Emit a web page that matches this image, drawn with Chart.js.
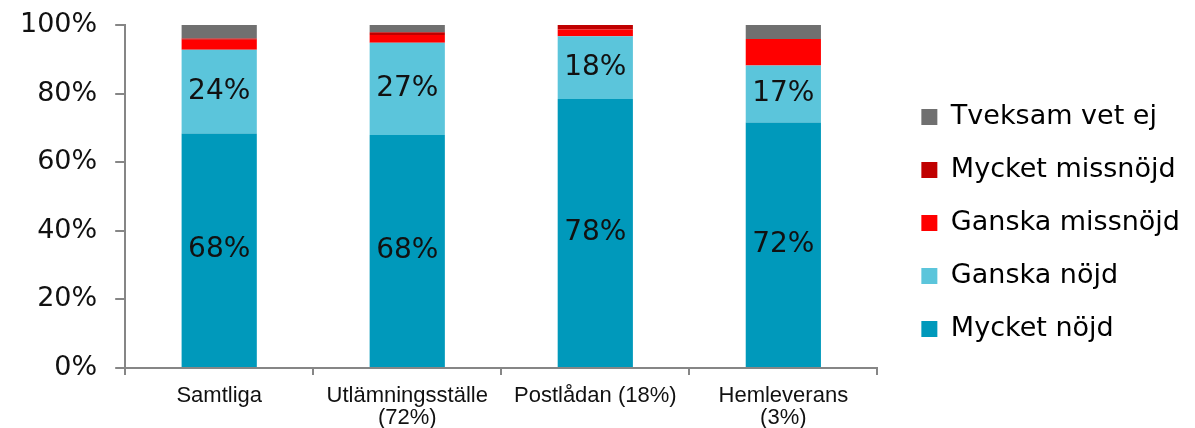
<!DOCTYPE html>
<html>
<head>
<meta charset="utf-8">
<script src="https://cdn.jsdelivr.net/npm/chart.js@4"></script>
<style>
  body { margin: 0; background: #fff; }
  #wrap { width: 1195px; height: 428px; }
</style>
</head>
<body>
<div id="wrap"><canvas id="chart"></canvas></div>
<script>
const categories = ['Samtliga', ['Utlämningsställe', '(72%)'], 'Postlådan (18%)', ['Hemleverans', '(3%)']];
const mycketNojd = [68.4, 67.9, 78.4, 71.6];
const ganskaNojd = [24.4, 26.9, 18.3, 16.6];
const ganskaMissnojd = [2.9, 2.3, 2.0, 7.7];
const mycketMissnojd = [0.4, 0.8, 1.3, 0];
const tveksam = [3.9, 2.1, 0, 4.1];
const yTicks = [0, 20, 40, 60, 80, 100];

const axisColor = '#868686';
const font = 'DejaVu Sans, Verdana, sans-serif';

// draws the rounded % inside the two "nöjd" segments
const segmentLabels = {
  id: 'segmentLabels',
  afterDatasetsDraw(chart) {
    const ctx = chart.ctx;
    ctx.save();
    ctx.font = '28px ' + font;
    ctx.fillStyle = '#111';
    ctx.textAlign = 'center';
    ctx.textBaseline = 'middle';
    [0, 1].forEach((di) => {
      const meta = chart.getDatasetMeta(di);
      meta.data.forEach((bar, i) => {
        const v = chart.data.datasets[di].data[i];
        if (!v) return;
        ctx.fillText(Math.round(v) + '%', bar.x, (bar.y + bar.base) / 2);
      });
    });
    ctx.restore();
  }
};

// widen the legend box and nudge its drawing so it sits like the original
const legendGap = {
  id: 'legendGap',
  beforeLayout(chart) {
    const lg = chart.legend;
    if (lg && !lg._gapPatched) {
      const fit = lg.fit.bind(lg);
      const draw = lg.draw.bind(lg);
      lg.fit = function () { fit(); this.width += 23; };
      lg.draw = function () {
        const ctx = chart.ctx;
        ctx.save();
        ctx.translate(18, 9);
        draw();
        ctx.restore();
      };
      lg._gapPatched = true;
    }
  }
};

new Chart(document.getElementById('chart'), {
  type: 'bar',
  data: {
    labels: categories,
    datasets: [
      { label: 'Mycket nöjd', data: mycketNojd, backgroundColor: '#0099BB' },
      { label: 'Ganska nöjd', data: ganskaNojd, backgroundColor: '#5BC5DB' },
      { label: 'Ganska missnöjd', data: ganskaMissnojd, backgroundColor: '#FF0000' },
      { label: 'Mycket missnöjd', data: mycketMissnojd, backgroundColor: '#C00000' },
      { label: 'Tveksam vet ej', data: tveksam, backgroundColor: '#707070' },
    ],
  },
  options: {
    responsive: true,
    maintainAspectRatio: false,
    animation: false,
    barPercentage: 0.4,
    categoryPercentage: 1,
    layout: { padding: { top: 0, left: 2, right: 0, bottom: 0 } },
    plugins: {
      tooltip: { enabled: false },
      legend: {
        position: 'right',
        reverse: true,
        labels: {
          boxWidth: 16,
          boxHeight: 16,
          padding: 26,
          color: '#000',
          font: { family: font, size: 27 },
        },
      },
    },
    scales: {
      x: {
        stacked: true,
        afterFit(axis) { axis.height = 60; },
        grid: { drawOnChartArea: false, tickLength: 7, color: axisColor, lineWidth: 2 },
        border: { color: axisColor, width: 2 },
        ticks: {
          color: '#111',
          maxRotation: 0,
          padding: 10,
          font: { family: 'Liberation Sans, Arial, sans-serif', size: 22, lineHeight: 1.0 },
        },
      },
      y: {
        stacked: true,
        min: 0,
        max: 100,
        afterBuildTicks(axis) { axis.ticks = yTicks.map((v) => ({ value: v })); },
        afterFit(axis) { axis.paddingTop = 25; axis.paddingBottom = 0; },
        grid: { drawOnChartArea: false, tickLength: 10, color: axisColor, lineWidth: 2 },
        border: { color: axisColor, width: 2 },
        ticks: {
          color: '#111',
          padding: 18,
          font: { family: font, size: 27 },
          callback: (v) => v + '%',
        },
      },
    },
  },
  plugins: [segmentLabels, legendGap],
});
</script>
</body>
</html>
